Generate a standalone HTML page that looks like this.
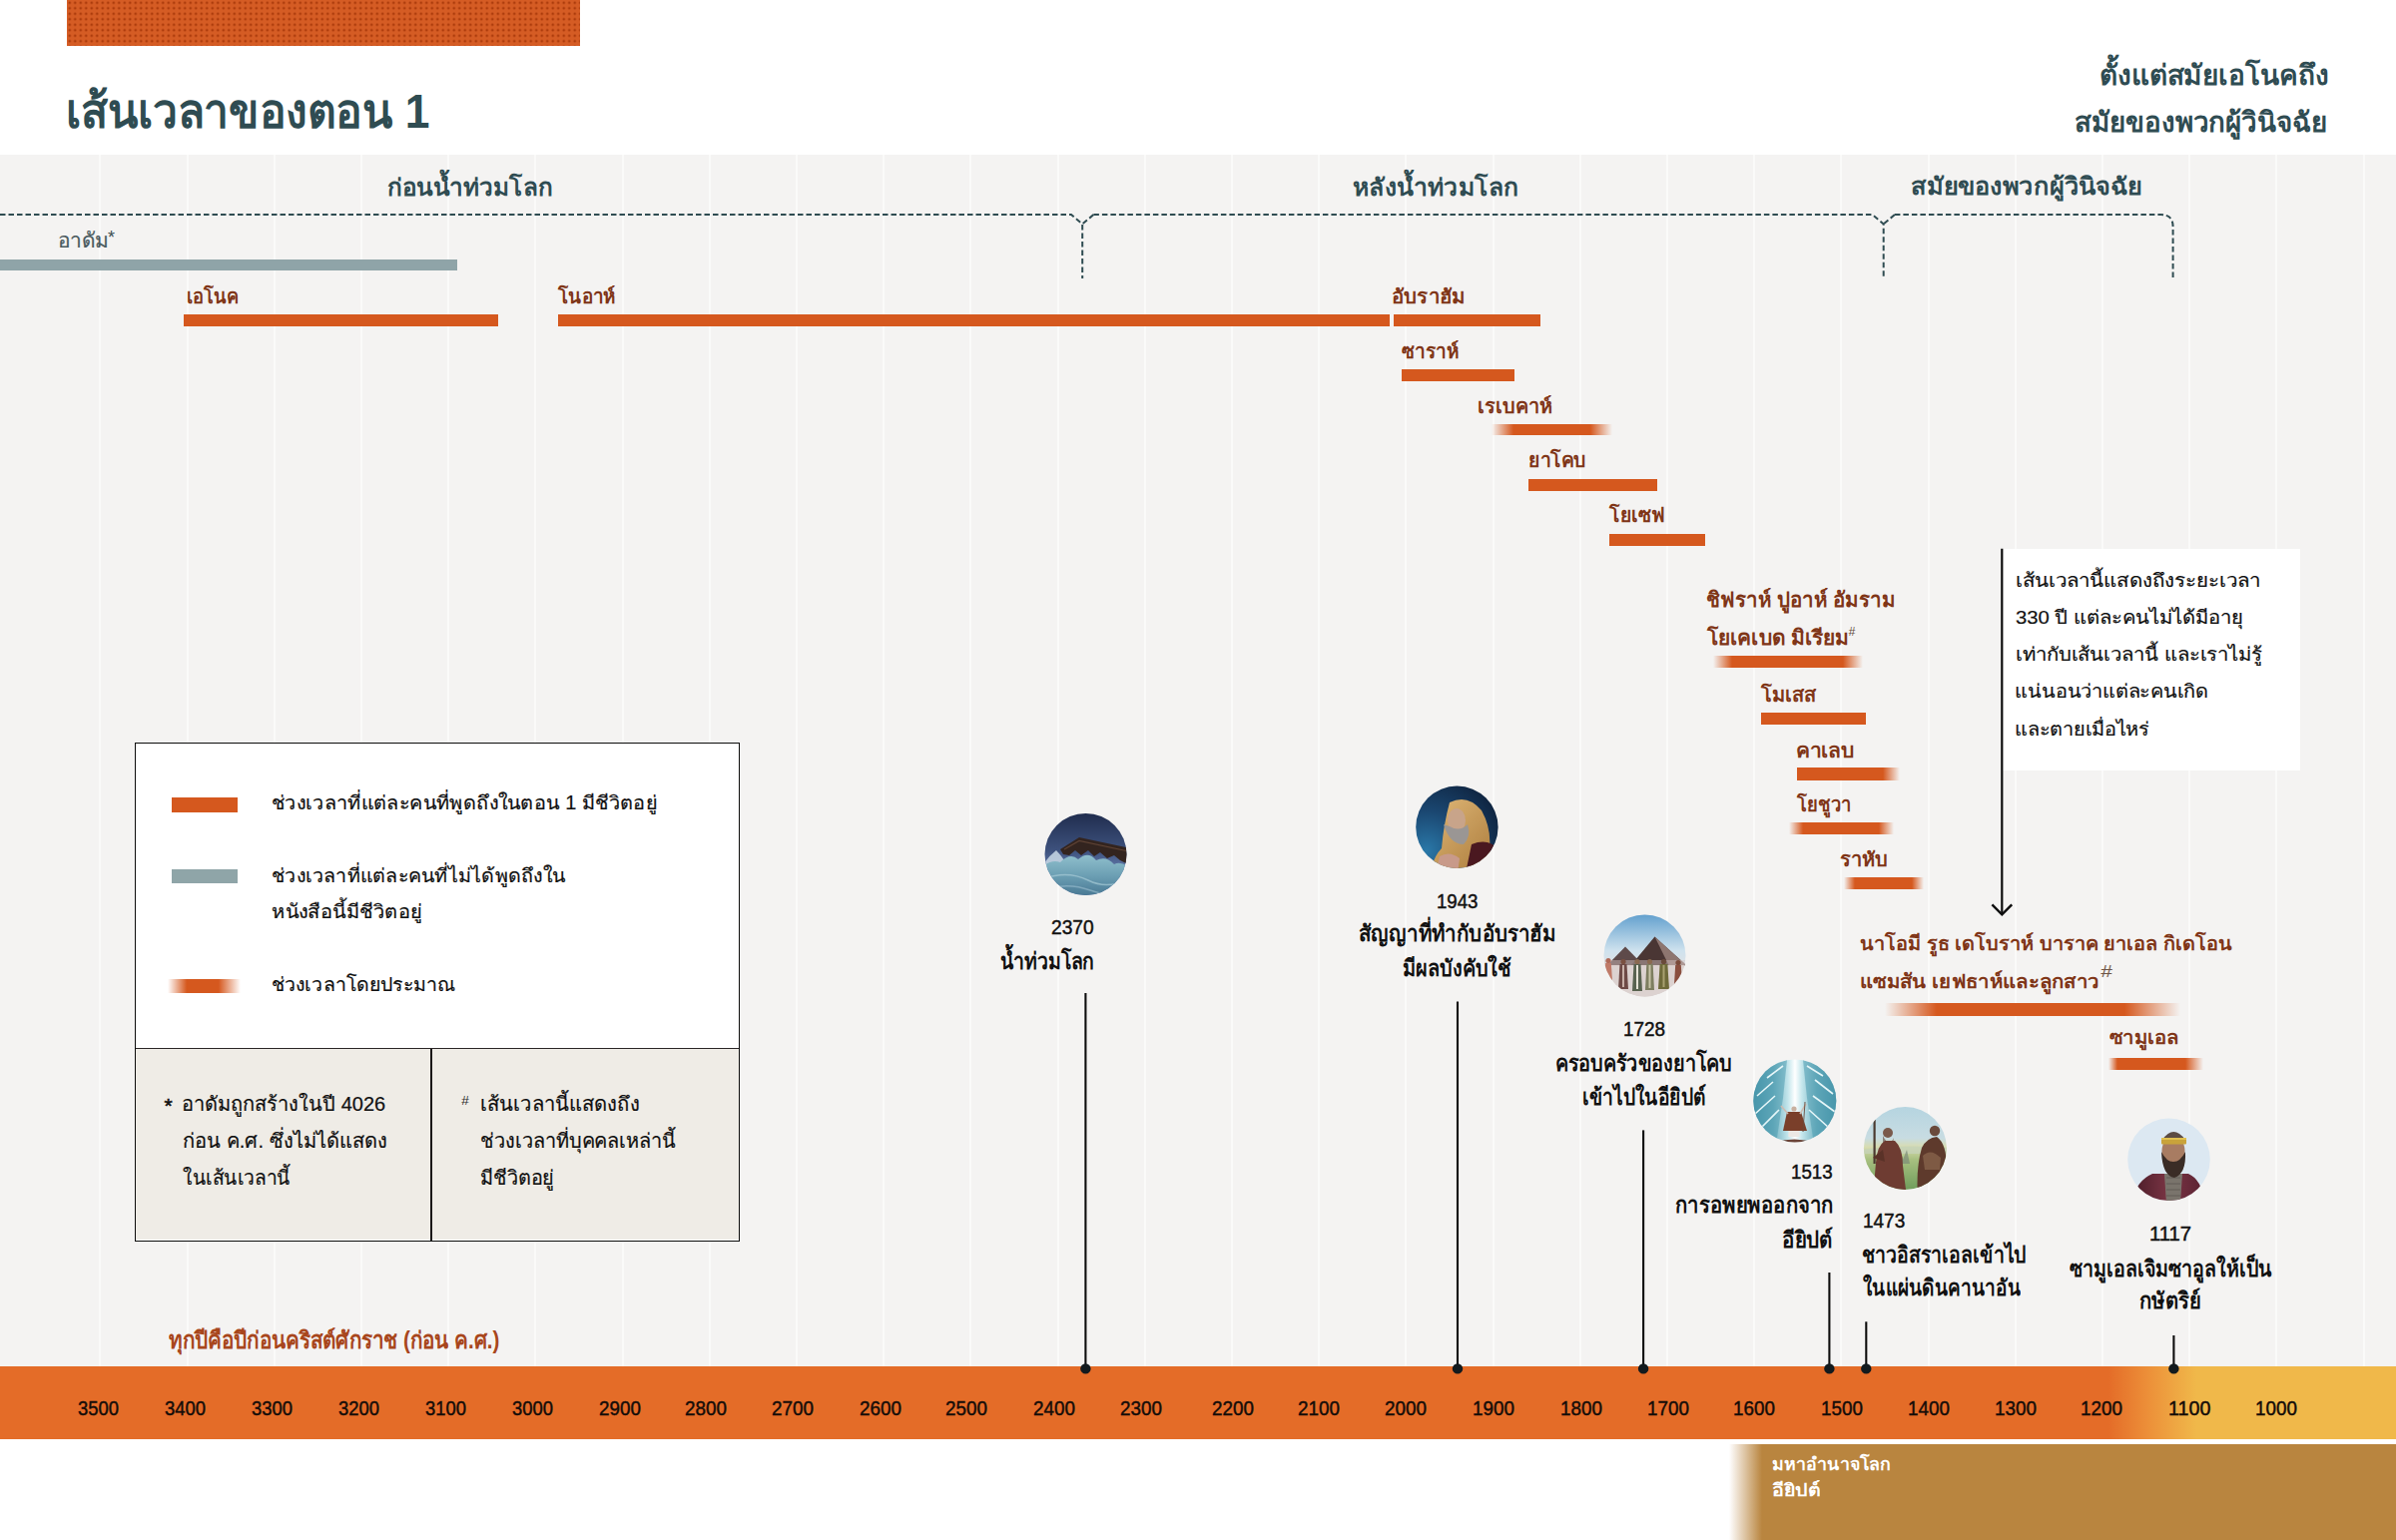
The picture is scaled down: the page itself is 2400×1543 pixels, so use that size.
<!DOCTYPE html><html><head><meta charset="utf-8"><title>Timeline</title><style>

*{margin:0;padding:0;box-sizing:border-box}
html,body{width:2400px;height:1543px;overflow:hidden;background:#fff}
body{position:relative;font-family:"Liberation Sans",sans-serif}
.abs{position:absolute}
.b{position:absolute}
.t{position:absolute;white-space:nowrap;line-height:1;transform-origin:0 0}

</style></head><body>
<div class="abs" style="left:67px;top:0;width:514px;height:46px;background-color:#d55c24;background-image:radial-gradient(circle at 50% 50%,rgba(160,50,5,.75) 0,rgba(160,50,5,.75) 1.1px,transparent 1.6px);background-size:5.5px 5.5px"></div>
<div class="abs" style="left:0;top:155px;width:2400px;height:1214px;background:#f4f3f2"></div>
<div class="abs" style="left:99.4px;top:155px;width:2px;height:1214px;background:#fafaf9"></div>
<div class="abs" style="left:186.6px;top:155px;width:2px;height:1214px;background:#fafaf9"></div>
<div class="abs" style="left:273.8px;top:155px;width:2px;height:1214px;background:#fafaf9"></div>
<div class="abs" style="left:361.0px;top:155px;width:2px;height:1214px;background:#fafaf9"></div>
<div class="abs" style="left:448.2px;top:155px;width:2px;height:1214px;background:#fafaf9"></div>
<div class="abs" style="left:535.4px;top:155px;width:2px;height:1214px;background:#fafaf9"></div>
<div class="abs" style="left:622.6px;top:155px;width:2px;height:1214px;background:#fafaf9"></div>
<div class="abs" style="left:709.8px;top:155px;width:2px;height:1214px;background:#fafaf9"></div>
<div class="abs" style="left:797.0px;top:155px;width:2px;height:1214px;background:#fafaf9"></div>
<div class="abs" style="left:884.2px;top:155px;width:2px;height:1214px;background:#fafaf9"></div>
<div class="abs" style="left:971.4px;top:155px;width:2px;height:1214px;background:#fafaf9"></div>
<div class="abs" style="left:1058.6px;top:155px;width:2px;height:1214px;background:#fafaf9"></div>
<div class="abs" style="left:1145.8px;top:155px;width:2px;height:1214px;background:#fafaf9"></div>
<div class="abs" style="left:1233.0px;top:155px;width:2px;height:1214px;background:#fafaf9"></div>
<div class="abs" style="left:1320.2px;top:155px;width:2px;height:1214px;background:#fafaf9"></div>
<div class="abs" style="left:1407.4px;top:155px;width:2px;height:1214px;background:#fafaf9"></div>
<div class="abs" style="left:1494.6px;top:155px;width:2px;height:1214px;background:#fafaf9"></div>
<div class="abs" style="left:1581.8px;top:155px;width:2px;height:1214px;background:#fafaf9"></div>
<div class="abs" style="left:1669.0px;top:155px;width:2px;height:1214px;background:#fafaf9"></div>
<div class="abs" style="left:1756.2px;top:155px;width:2px;height:1214px;background:#fafaf9"></div>
<div class="abs" style="left:1843.4px;top:155px;width:2px;height:1214px;background:#fafaf9"></div>
<div class="abs" style="left:1930.6px;top:155px;width:2px;height:1214px;background:#fafaf9"></div>
<div class="abs" style="left:2017.8px;top:155px;width:2px;height:1214px;background:#fafaf9"></div>
<div class="abs" style="left:2105.0px;top:155px;width:2px;height:1214px;background:#fafaf9"></div>
<div class="abs" style="left:2192.2px;top:155px;width:2px;height:1214px;background:#fafaf9"></div>
<div class="abs" style="left:2279.4px;top:155px;width:2px;height:1214px;background:#fafaf9"></div>
<div class="abs" style="left:2366.6px;top:155px;width:2px;height:1214px;background:#fafaf9"></div>
<div class="abs" style="left:2006px;top:549.7px;width:298px;height:222.5px;background:#fff"></div>
<div class="abs" style="left:134.7px;top:743.5px;width:606.6px;height:500.3px;border:1.6px solid #0d0d0d;background:#fff"></div>
<div class="abs" style="left:136.3px;top:1050px;width:603.4px;height:192.2px;background:#efece6;border-top:1.4px solid #2a2626"></div>
<div class="abs" style="left:431.4px;top:1050.5px;width:1.5px;height:192px;background:#1a1818"></div>
<div class="abs" style="left:172.3px;top:799.1px;width:65.7px;height:14.5px;background:#d5581e"></div>
<div class="abs" style="left:172.3px;top:871.1px;width:65.7px;height:14.2px;background:#8fa5a8"></div>
<div class="b" style="left:168.0px;top:980.8px;width:72.5px;height:14.2px;background:linear-gradient(to right, rgba(213,88,30,0) 0%, #d5581e 26.21%, #d5581e 69.66%, rgba(213,88,30,0) 100%)"></div>
<div class="abs" style="left:0;top:260.4px;width:458px;height:10.8px;background:#8fa4a8"></div>
<div class="b" style="left:184.0px;top:315.0px;width:315.0px;height:11.7px;background:#d5581e"></div>
<div class="b" style="left:558.6px;top:315.2px;width:833.4px;height:11.4px;background:#d5581e"></div>
<div class="b" style="left:1395.5px;top:315.2px;width:147.9px;height:11.4px;background:#d5581e"></div>
<div class="b" style="left:1404.0px;top:370.3px;width:113.3px;height:11.4px;background:#d5581e"></div>
<div class="b" style="left:1494.0px;top:424.5px;width:120.7px;height:11.5px;background:linear-gradient(to right, rgba(213,88,30,0) 0%, #d5581e 18.23%, #d5581e 81.77%, rgba(213,88,30,0) 100%)"></div>
<div class="b" style="left:1531.0px;top:480.0px;width:129.0px;height:11.5px;background:#d5581e"></div>
<div class="b" style="left:1612.0px;top:535.2px;width:95.5px;height:11.4px;background:#d5581e"></div>
<div class="b" style="left:1715.7px;top:657.4px;width:150.3px;height:11.9px;background:linear-gradient(to right, rgba(213,88,30,0) 0%, #d5581e 12.64%, #d5581e 86.69%, rgba(213,88,30,0) 100%)"></div>
<div class="b" style="left:1763.6px;top:714.3px;width:105.4px;height:11.9px;background:#d5581e"></div>
<div class="b" style="left:1799.6px;top:769.4px;width:103.4px;height:12.2px;background:linear-gradient(to right, rgba(213,88,30,0) 0%, #d5581e 0.00%, #d5581e 83.56%, rgba(213,88,30,0) 100%)"></div>
<div class="b" style="left:1792.4px;top:824.0px;width:104.6px;height:11.8px;background:linear-gradient(to right, rgba(213,88,30,0) 0%, #d5581e 13.38%, #d5581e 85.66%, rgba(213,88,30,0) 100%)"></div>
<div class="b" style="left:1846.6px;top:879.0px;width:80.4px;height:12.0px;background:linear-gradient(to right, rgba(213,88,30,0) 0%, #d5581e 13.68%, #d5581e 85.07%, rgba(213,88,30,0) 100%)"></div>
<div class="b" style="left:1887.6px;top:1005.1px;width:296.3px;height:12.6px;background:linear-gradient(to right, rgba(213,88,30,0) 0%, #d5581e 17.55%, #d5581e 81.10%, rgba(213,88,30,0) 100%)"></div>
<div class="b" style="left:2112.1px;top:1060.2px;width:95.2px;height:12.1px;background:linear-gradient(to right, rgba(213,88,30,0) 0%, #d5581e 9.45%, #d5581e 81.09%, rgba(213,88,30,0) 100%)"></div>
<div class="abs" style="left:0;top:1369px;width:2400px;height:72.7px;background:linear-gradient(to right,#e46c28 0,#e46c28 2112px,#ec8e38 2150px,#f0b84a 2200px,#f0b84a 2400px)"></div>
<div class="abs" style="left:1732px;top:1447.1px;width:668px;height:96px;background:linear-gradient(to right,rgba(185,133,63,0) 0,#b9853f 33px,#b9853f 100%)"></div>
<svg class="abs" width="2400" height="1543" style="left:0;top:0">
<path d="M0,215.1 H1073 L1084.2,224.5 V279" fill="none" stroke="#2f4c52" stroke-width="2" stroke-dasharray="5.5 3"/>
<path d="M1095.4,215.1 L1084.2,224.5" fill="none" stroke="#2f4c52" stroke-width="2" stroke-dasharray="5.5 3"/>
<path d="M1095.4,215.1 H1875.5 L1886.7,224.5 V279" fill="none" stroke="#2f4c52" stroke-width="2" stroke-dasharray="5.5 3"/>
<path d="M1897.9,215.1 L1886.7,224.5" fill="none" stroke="#2f4c52" stroke-width="2" stroke-dasharray="5.5 3"/>
<path d="M1897.9,215.1 H2164.6 Q2176.6,215.1 2176.6,227 V279" fill="none" stroke="#2f4c52" stroke-width="2" stroke-dasharray="5.5 3"/>
<path d="M2005.3,549.7 V916" stroke="#0d0d0d" stroke-width="2.2" fill="none"/>
<path d="M1995.4,906.4 L2005.3,916.3 L2015.2,906.4" stroke="#0d0d0d" stroke-width="2.4" fill="none"/>
<path d="M1087.4,995 V1371" stroke="#0d0d0d" stroke-width="2.1"/>
<circle cx="1087.4" cy="1371.4" r="5.2" fill="#121a1e"/>
<path d="M1460,1003.6 V1371" stroke="#0d0d0d" stroke-width="2.1"/>
<circle cx="1460" cy="1371.4" r="5.2" fill="#121a1e"/>
<path d="M1646.1,1132.4 V1371" stroke="#0d0d0d" stroke-width="2.1"/>
<circle cx="1646.1" cy="1371.4" r="5.2" fill="#121a1e"/>
<path d="M1832.4,1275 V1371" stroke="#0d0d0d" stroke-width="2.1"/>
<circle cx="1832.4" cy="1371.4" r="5.2" fill="#121a1e"/>
<path d="M1869.3,1324.3 V1371" stroke="#0d0d0d" stroke-width="2.1"/>
<circle cx="1869.3" cy="1371.4" r="5.2" fill="#121a1e"/>
<path d="M2177.4,1338 V1371" stroke="#0d0d0d" stroke-width="2.1"/>
<circle cx="2177.4" cy="1371.4" r="5.2" fill="#121a1e"/>
</svg>
<svg class="abs" width="2400" height="1543" style="left:0;top:0">
<defs>
<clipPath id="c0"><circle cx="1087.5" cy="856" r="41"/></clipPath>
<clipPath id="c1"><circle cx="1459.4" cy="828.7" r="41.2"/></clipPath>
<clipPath id="c2"><circle cx="1647.5" cy="957.4" r="41"/></clipPath>
<clipPath id="c3"><circle cx="1797.8" cy="1102.9" r="41.5"/></clipPath>
<clipPath id="c4"><circle cx="1908.4" cy="1150.5" r="41.5"/></clipPath>
<clipPath id="c5"><circle cx="2172.5" cy="1161.8" r="41.3"/></clipPath>
<linearGradient id="sky0" x1="0" y1="0" x2="0" y2="1"><stop offset="0" stop-color="#1c2848"/><stop offset="0.45" stop-color="#3e527e"/><stop offset="0.6" stop-color="#5a70a0"/></linearGradient>
<linearGradient id="sea0" x1="0" y1="0" x2="0" y2="1"><stop offset="0" stop-color="#8fbfcc"/><stop offset="0.45" stop-color="#6a9db2"/><stop offset="1" stop-color="#3c6a88"/></linearGradient>
<radialGradient id="sky1" cx="0.15" cy="0.75" r="0.9"><stop offset="0" stop-color="#2a78a8"/><stop offset="0.5" stop-color="#1a4670"/><stop offset="1" stop-color="#0f2440"/></radialGradient>
<linearGradient id="cloak1" x1="0" y1="0" x2="1" y2="1"><stop offset="0" stop-color="#e0b878"/><stop offset="1" stop-color="#a87838"/></linearGradient>
<linearGradient id="sky2" x1="0" y1="0" x2="0" y2="1"><stop offset="0" stop-color="#5c9ccc"/><stop offset="0.45" stop-color="#cfe2ee"/><stop offset="0.7" stop-color="#e6e2e2"/><stop offset="1" stop-color="#d6ccca"/></linearGradient>
<linearGradient id="sea3" x1="0" y1="0" x2="1" y2="0"><stop offset="0" stop-color="#3a8aa0"/><stop offset="0.25" stop-color="#6fb0c0"/><stop offset="0.42" stop-color="#c4e6ec"/><stop offset="0.5" stop-color="#ffffff"/><stop offset="0.58" stop-color="#c4e6ec"/><stop offset="0.75" stop-color="#6fb0c0"/><stop offset="1" stop-color="#3a8aa0"/></linearGradient>
<linearGradient id="sky4" x1="0" y1="0" x2="0" y2="1"><stop offset="0" stop-color="#b4d4e0"/><stop offset="0.38" stop-color="#c8dce2"/><stop offset="0.48" stop-color="#d8dcb0"/><stop offset="0.62" stop-color="#a8c080"/><stop offset="1" stop-color="#6a9a58"/></linearGradient>
<linearGradient id="robe5" x1="0" y1="0" x2="1" y2="0"><stop offset="0" stop-color="#4a1c28"/><stop offset="0.5" stop-color="#7a3444"/><stop offset="1" stop-color="#5a2232"/></linearGradient>
</defs>
<g clip-path="url(#c0)"><rect x="1040" y="810" width="95" height="95" fill="url(#sky0)"/><path d="M1062,851 L1081,839 L1130,849.5 L1130,866 L1122,862 L1116,857 L1109,860 L1102,854 L1096,858 L1090,852 L1083,857 L1077,852 L1071,857 L1065,856 Z" fill="#33241f"/><path d="M1066,851 L1081,842.5 L1128,852.5" stroke="#5e4234" stroke-width="1.2" fill="none"/><path d="M1044,868 Q1050,858 1058,852 Q1062,856 1066,862 L1060,872 Z" fill="#c9d9e6" opacity="0.85"/><path d="M1040,872 Q1052,860 1062,864 Q1072,854 1080,861 Q1090,852 1098,862 Q1108,857 1116,866 Q1124,862 1135,872 L1135,905 L1040,905 Z" fill="url(#sea0)"/><path d="M1046,880 Q1070,872 1090,882 T1132,880" stroke="#a6cad6" stroke-width="1.4" fill="none" opacity="0.7"/><path d="M1048,891 Q1070,884 1092,892 T1132,890" stroke="#9cc0d0" stroke-width="1.4" fill="none" opacity="0.6"/></g>
<g clip-path="url(#c1)"><rect x="1415" y="785" width="90" height="90" fill="url(#sky1)"/><path d="M1452,804 Q1470,795 1484,812 Q1494,830 1492,850 L1500,875 L1432,875 Q1436,858 1444,850 Q1446,826 1452,804 Z" fill="url(#cloak1)"/><ellipse cx="1459" cy="822" rx="9" ry="12" fill="#c8a48a"/><path d="M1446,826 Q1452,846 1466,846 Q1474,838 1470,826 Q1462,834 1452,828 Z" fill="#9a9694"/><path d="M1474,846 Q1494,838 1504,856 L1504,875 L1468,875 Z" fill="#4a1820"/><path d="M1442,858 Q1452,852 1462,860 L1460,875 L1438,875 Z" fill="#c89a8a"/></g>
<g clip-path="url(#c2)"><rect x="1605" y="914" width="85" height="86" fill="url(#sky2)"/><path d="M1610,967 L1628,948.5 L1646,967 Z" fill="#5e4a4a"/><path d="M1633,968 L1657.5,938.5 L1690,968 Z" fill="#4a3634"/><path d="M1657.5,938.5 L1690,968 L1672,968 Z" fill="#8e7670"/><rect x="1605" y="967" width="85" height="33" fill="#dcd2d0"/><rect x="1605" y="962" width="85" height="6" fill="#d6c6c4" opacity="0.45"/><circle cx="1611" cy="962.6" r="2.6" fill="#b06a58"/><path d="M1608.2,965 L1613.8,965 L1615.0,982 L1607.0,982 Z" fill="#c07a68"/><circle cx="1626" cy="963.6" r="2.6" fill="#7a5040"/><path d="M1622.5,966 L1629.5,966 L1631.0,991 L1621.0,991 Z" fill="#6e4a46"/><rect x="1625" y="967" width="2" height="22" fill="#c8b0a8"/><circle cx="1640" cy="963.6" r="2.6" fill="#8a6a50"/><path d="M1636.5,966 L1643.5,966 L1645.0,993 L1635.0,993 Z" fill="#58624f"/><rect x="1639" y="967" width="2" height="24" fill="#e6e2d6"/><circle cx="1652.5" cy="963.6" r="2.6" fill="#8a6a50"/><path d="M1649.35,966 L1655.65,966 L1657.0,992 L1648.0,992 Z" fill="#7e7e60"/><rect x="1651.5" y="967" width="2" height="23" fill="#c8c4a8"/><circle cx="1666.5" cy="963.6" r="2.6" fill="#6a4a3a"/><path d="M1662.65,966 L1670.35,966 L1672.0,991 L1661.0,991 Z" fill="#6e6a3a"/><rect x="1665.5" y="967" width="2" height="22" fill="#a8a070"/><circle cx="1681" cy="964.6" r="2.6" fill="#7a4a3a"/><path d="M1678.2,967 L1683.8,967 L1685.0,986 L1677.0,986 Z" fill="#8a4e3e"/></g>
<g clip-path="url(#c3)"><rect x="1754" y="1060" width="88" height="88" fill="url(#sea3)"/><path d="M1756,1075 L1790,1062 L1786,1100 L1780,1140 L1756,1140 Z" fill="#4f9cb0" opacity="0.55"/><path d="M1840,1075 L1806,1062 L1810,1100 L1816,1140 L1840,1140 Z" fill="#4f9cb0" opacity="0.55"/><path d="M1760,1098 L1776,1084 M1758,1116 L1778,1098 M1764,1130 L1782,1112 M1770,1080 L1786,1068" stroke="#e6f6f8" stroke-width="1.6" fill="none"/><path d="M1836,1096 L1818,1082 M1838,1114 L1816,1098 M1832,1130 L1812,1112 M1826,1078 L1810,1068" stroke="#e6f6f8" stroke-width="1.6" fill="none"/><path d="M1790,1114 L1804,1114 L1810,1133 L1786,1133 Z" fill="#7a3f2a"/><path d="M1791,1116 L1784,1108 M1803,1116 L1809,1106" stroke="#cdbcb2" stroke-width="1.6"/><path d="M1808,1104 L1806,1134" stroke="#6a4a3a" stroke-width="0.9"/><circle cx="1797" cy="1111" r="2.6" fill="#c8b0a0"/><rect x="1791.5" y="1133" width="11" height="6" fill="#ece8e4"/><path d="M1774,1146 Q1797,1137 1822,1146 Z" fill="#6b4438"/></g>
<g clip-path="url(#c4)"><rect x="1864" y="1107" width="90" height="88" fill="url(#sky4)"/><path d="M1866,1152 Q1900,1146 1952,1150 L1952,1156 L1866,1156 Z" fill="#c6d2b8" opacity="0.8"/><path d="M1900,1160 L1903,1150 L1906,1162 L1910,1152 L1913,1166 L1900,1166 Z" fill="#7a8a78" opacity="0.7"/><rect x="1876.5" y="1122" width="2.2" height="44" fill="#4a3a30"/><circle cx="1891" cy="1135" r="5" fill="#7a5a4c"/><path d="M1886,1138 Q1892,1150 1897,1140 L1896,1146 Q1891,1152 1886,1146 Z" fill="#8a8078"/><path d="M1876,1200 L1879,1165 Q1880,1148 1888,1143 L1898,1143 Q1906,1150 1906,1168 L1910,1200 Z" fill="#6e3c32"/><path d="M1876,1160 L1886,1152 L1888,1164 Z" fill="#5a3228"/><circle cx="1938" cy="1133" r="5.2" fill="#6a4a3c"/><path d="M1921,1200 Q1919,1170 1925,1150 Q1930,1140 1940,1139 Q1950,1146 1950,1170 L1950,1200 Z" fill="#5e3a2c"/><path d="M1926,1158 Q1934,1150 1944,1160 L1943,1172 L1928,1172 Z" fill="#7e5a44"/></g>
<g clip-path="url(#c5)"><rect x="2128" y="1118" width="90" height="90" fill="#dce8f2"/><path d="M2136,1206 Q2138,1184 2156,1176 L2192,1176 Q2206,1182 2208,1206 Z" fill="url(#robe5)"/><path d="M2168,1176 L2186,1176 L2184,1206 L2170,1206 Z" fill="#7a746c"/><path d="M2170,1180 L2184,1180 M2170,1186 L2184,1186 M2170,1192 L2184,1192 M2170,1198 L2184,1198" stroke="#5a5650" stroke-width="0.8"/><ellipse cx="2177" cy="1153" rx="11.5" ry="15" fill="#a87c62"/><path d="M2165,1154 Q2166,1178 2178,1180 Q2190,1176 2189,1154 Q2184,1164 2177,1164 Q2170,1164 2165,1154 Z" fill="#3a2c26"/><path d="M2166,1142 Q2177,1126 2189,1142 L2189,1146 L2166,1146 Z" fill="#5c4c44"/><rect x="2165" y="1140" width="25" height="6.5" rx="1" fill="#c9a33a"/><rect x="2165" y="1140" width="25" height="2" fill="#e0c050"/></g>
</svg>
<div class="t" id="m0" style="left:108px;top:228.9px;font-size:18px;color:#3d4f52">*</div>
<div class="t" id="m1" style="left:1851.5px;top:627px;font-size:12px;color:#5e4638;font-style:italic">#</div>
<div class="t" id="m2" style="left:2103.5px;top:966px;font-size:16px;color:#6e5444;font-style:italic;transform:scaleX(1.3)">#</div>
<div class="t" id="m3" style="left:164.5px;top:1097.4px;font-size:21px;font-weight:400;color:#111;-webkit-text-stroke:0.6px #111">*</div>
<div class="t" id="m4" style="left:462px;top:1096px;font-size:13.6px;color:#2a2a2a;font-style:italic">#</div>
<div class="t" id="t0" style="left:65.53px;top:87.00px;font-size:48.14px;font-weight:700;color:#2f4c52;transform:scaleX(0.9225);width:399px;clip-path:inset(-60px 0 -60px -30px);">เส้นเวลาของตอน 1</div>
<div class="t" id="t1" style="left:2102.81px;top:61.50px;font-size:28.14px;font-weight:700;color:#2f4c52;transform:scaleX(0.9939);width:234px;clip-path:inset(-60px 0 -60px -30px);">ตั้งแต่สมัยเอโนคถึง</div>
<div class="t" id="t2" style="left:2078.40px;top:108.69px;font-size:27.80px;font-weight:700;color:#2f4c52;transform:scaleX(0.9960);width:258px;clip-path:inset(-60px 0 -60px -30px);">สมัยของพวกผู้วินิจฉัย</div>
<div class="t" id="t3" style="left:387.79px;top:175.60px;font-size:24.07px;font-weight:600;color:#2f4c52;transform:scaleX(1.0112);width:167px;clip-path:inset(-60px 0 -60px -30px);">ก่อนน้ำท่วมโลก</div>
<div class="t" id="t4" style="left:1355.37px;top:175.90px;font-size:24.07px;font-weight:600;color:#2f4c52;transform:scaleX(1.0270);width:165px;clip-path:inset(-60px 0 -60px -30px);">หลังน้ำท่วมโลก</div>
<div class="t" id="t5" style="left:1914.45px;top:174.80px;font-size:24.07px;font-weight:600;color:#2f4c52;transform:scaleX(1.0528);width:224px;clip-path:inset(-60px 0 -60px -30px);">สมัยของพวกผู้วินิจฉัย</div>
<div class="t" id="t6" style="left:58.48px;top:231.21px;font-size:20.69px;font-weight:400;color:#4a5a5e;transform:scaleX(1.0106);width:54px;clip-path:inset(-60px 0 -60px -30px);-webkit-text-stroke:0.2px currentColor;">อาดัม</div>
<div class="t" id="t7" style="left:186.89px;top:286.70px;font-size:20.00px;font-weight:600;color:#7f3517;transform:scaleX(0.9127);width:61px;clip-path:inset(-60px 0 -60px -30px);">เอโนค</div>
<div class="t" id="t8" style="left:558.60px;top:286.80px;font-size:20.00px;font-weight:600;color:#7f3517;transform:scaleX(0.9410);width:66px;clip-path:inset(-60px 0 -60px -30px);">โนอาห์</div>
<div class="t" id="t9" style="left:1394.48px;top:286.60px;font-size:20.00px;font-weight:600;color:#7f3517;transform:scaleX(1.0186);width:76px;clip-path:inset(-60px 0 -60px -30px);">อับราฮัม</div>
<div class="t" id="t10" style="left:1404.00px;top:342.20px;font-size:20.00px;font-weight:600;color:#7f3517;transform:scaleX(0.9483);width:65px;clip-path:inset(-60px 0 -60px -30px);">ซาราห์</div>
<div class="t" id="t11" style="left:1480.01px;top:396.50px;font-size:20.00px;font-weight:600;color:#7f3517;transform:scaleX(0.9932);width:80px;clip-path:inset(-60px 0 -60px -30px);">เรเบคาห์</div>
<div class="t" id="t12" style="left:1531.03px;top:451.30px;font-size:20.00px;font-weight:600;color:#7f3517;transform:scaleX(0.9655);width:64px;clip-path:inset(-60px 0 -60px -30px);">ยาโคบ</div>
<div class="t" id="t13" style="left:1612.00px;top:506.30px;font-size:20.00px;font-weight:600;color:#7f3517;transform:scaleX(0.9614);width:62px;clip-path:inset(-60px 0 -60px -30px);">โยเซฟ</div>
<div class="t" id="t14" style="left:1708.51px;top:591.12px;font-size:20.68px;font-weight:600;color:#7f3517;transform:scaleX(0.9904);width:194px;clip-path:inset(-60px 0 -60px -30px);">ชิฟราห์ ปูอาห์ อัมราม</div>
<div class="t" id="t15" style="left:1709.50px;top:629.22px;font-size:20.68px;font-weight:600;color:#7f3517;transform:scaleX(1.0108);width:144px;clip-path:inset(-60px 0 -60px -30px);">โยเคเบด มิเรียม</div>
<div class="t" id="t16" style="left:1764.00px;top:686.20px;font-size:20.00px;font-weight:600;color:#7f3517;width:60px;clip-path:inset(-60px 0 -60px -30px);">โมเสส</div>
<div class="t" id="t17" style="left:1798.95px;top:741.80px;font-size:20.00px;font-weight:600;color:#7f3517;transform:scaleX(1.0481);width:60px;clip-path:inset(-60px 0 -60px -30px);">คาเลบ</div>
<div class="t" id="t18" style="left:1799.60px;top:796.30px;font-size:20.00px;font-weight:600;color:#7f3517;transform:scaleX(0.9172);width:63px;clip-path:inset(-60px 0 -60px -30px);">โยชูวา</div>
<div class="t" id="t19" style="left:1843.00px;top:850.80px;font-size:20.00px;font-weight:600;color:#7f3517;width:52px;clip-path:inset(-60px 0 -60px -30px);">ราหับ</div>
<div class="t" id="t20" style="left:1863.20px;top:935.55px;font-size:19.83px;font-weight:600;color:#7f3517;transform:scaleX(1.0008);width:378px;clip-path:inset(-60px 0 -60px -30px);">นาโอมี รูธ เดโบราห์ บาราค ยาเอล กิเดโอน</div>
<div class="t" id="t21" style="left:1863.18px;top:973.95px;font-size:19.83px;font-weight:600;color:#7f3517;transform:scaleX(1.0250);width:238px;clip-path:inset(-60px 0 -60px -30px);">แซมสัน เยฟธาห์และลูกสาว</div>
<div class="t" id="t22" style="left:2113.00px;top:1029.85px;font-size:19.83px;font-weight:600;color:#7f3517;transform:scaleX(1.0209);width:72px;clip-path:inset(-60px 0 -60px -30px);">ซามูเอล</div>
<div class="t" id="t23" style="left:2019.30px;top:572.59px;font-size:18.62px;font-weight:400;color:#111111;transform:scaleX(1.1027);width:226px;clip-path:inset(-60px 0 -60px -30px);-webkit-text-stroke:0.2px currentColor;">เส้นเวลานี้แสดงถึงระยะเวลา</div>
<div class="t" id="t24" style="left:2018.51px;top:609.69px;font-size:18.62px;font-weight:400;color:#111111;transform:scaleX(1.0879);width:213px;clip-path:inset(-60px 0 -60px -30px);-webkit-text-stroke:0.2px currentColor;">330 ปี แต่ละคนไม่ได้มีอายุ</div>
<div class="t" id="t25" style="left:2019.31px;top:647.09px;font-size:18.62px;font-weight:400;color:#111111;transform:scaleX(1.0911);width:231px;clip-path:inset(-60px 0 -60px -30px);-webkit-text-stroke:0.2px currentColor;">เท่ากับเส้นเวลานี้ และเราไม่รู้</div>
<div class="t" id="t26" style="left:2018.26px;top:684.49px;font-size:18.62px;font-weight:400;color:#111111;transform:scaleX(1.0725);width:185px;clip-path:inset(-60px 0 -60px -30px);-webkit-text-stroke:0.2px currentColor;">แน่นอนว่าแต่ละคนเกิด</div>
<div class="t" id="t27" style="left:2018.26px;top:721.89px;font-size:18.62px;font-weight:400;color:#111111;transform:scaleX(1.0685);width:131px;clip-path:inset(-60px 0 -60px -30px);-webkit-text-stroke:0.2px currentColor;">และตายเมื่อไหร่</div>
<div class="t" id="t28" style="left:1053.34px;top:919.00px;font-size:20.00px;font-weight:400;color:#111111;transform:scaleX(0.9581);width:49px;clip-path:inset(-60px 0 -60px -30px);-webkit-text-stroke:0.45px currentColor;">2370</div>
<div class="t" id="t29" style="left:1001.86px;top:951.58px;font-size:23.05px;font-weight:700;color:#111111;transform:scaleX(0.8409);width:116px;clip-path:inset(-60px 0 -60px -30px);">น้ำท่วมโลก</div>
<div class="t" id="t30" style="left:1438.97px;top:892.80px;font-size:20.00px;font-weight:400;color:#111111;transform:scaleX(0.9326);width:49px;clip-path:inset(-60px 0 -60px -30px);-webkit-text-stroke:0.45px currentColor;">1943</div>
<div class="t" id="t31" style="left:1361.11px;top:924.18px;font-size:23.05px;font-weight:700;color:#111111;transform:scaleX(0.8886);width:226px;clip-path:inset(-60px 0 -60px -30px);">สัญญาที่ทำกับอับราฮัม</div>
<div class="t" id="t32" style="left:1404.64px;top:959.18px;font-size:23.05px;font-weight:700;color:#111111;transform:scaleX(0.8632);width:131px;clip-path:inset(-60px 0 -60px -30px);">มีผลบังคับใช้</div>
<div class="t" id="t33" style="left:1626.05px;top:1020.60px;font-size:20.00px;font-weight:400;color:#111111;transform:scaleX(0.9465);width:49px;clip-path:inset(-60px 0 -60px -30px);-webkit-text-stroke:0.45px currentColor;">1728</div>
<div class="t" id="t34" style="left:1558.14px;top:1053.98px;font-size:23.05px;font-weight:700;color:#111111;transform:scaleX(0.8603);width:210px;clip-path:inset(-60px 0 -60px -30px);">ครอบครัวของยาโคบ</div>
<div class="t" id="t35" style="left:1584.67px;top:1087.68px;font-size:23.05px;font-weight:700;color:#111111;transform:scaleX(0.8318);width:154px;clip-path:inset(-60px 0 -60px -30px);">เข้าไปในอียิปต์</div>
<div class="t" id="t36" style="left:1794.06px;top:1164.00px;font-size:20.00px;font-weight:400;color:#111111;transform:scaleX(0.9372);width:49px;clip-path:inset(-60px 0 -60px -30px);-webkit-text-stroke:0.45px currentColor;">1513</div>
<div class="t" id="t37" style="left:1677.61px;top:1196.47px;font-size:22.71px;font-weight:700;color:#111111;transform:scaleX(0.8915);width:182px;clip-path:inset(-60px 0 -60px -30px);">การอพยพออกจาก</div>
<div class="t" id="t38" style="left:1784.90px;top:1230.87px;font-size:22.71px;font-weight:700;color:#111111;transform:scaleX(0.9018);width:61px;clip-path:inset(-60px 0 -60px -30px);">อียิปต์</div>
<div class="t" id="t39" style="left:1865.95px;top:1212.50px;font-size:20.00px;font-weight:400;color:#111111;transform:scaleX(0.9488);width:49px;clip-path:inset(-60px 0 -60px -30px);-webkit-text-stroke:0.45px currentColor;">1473</div>
<div class="t" id="t40" style="left:1864.85px;top:1245.87px;font-size:22.71px;font-weight:700;color:#111111;transform:scaleX(0.8550);width:197px;clip-path:inset(-60px 0 -60px -30px);">ชาวอิสราเอลเข้าไป</div>
<div class="t" id="t41" style="left:1865.70px;top:1279.47px;font-size:22.71px;font-weight:700;color:#111111;transform:scaleX(0.8354);width:194px;clip-path:inset(-60px 0 -60px -30px);">ในแผ่นดินคานาอัน</div>
<div class="t" id="t42" style="left:2153.49px;top:1225.60px;font-size:20.00px;font-weight:400;color:#111111;transform:scaleX(1.0125);width:46px;clip-path:inset(-60px 0 -60px -30px);-webkit-text-stroke:0.45px currentColor;">1117</div>
<div class="t" id="t43" style="left:2073.00px;top:1260.07px;font-size:22.71px;font-weight:700;color:#111111;transform:scaleX(0.8613);width:240px;clip-path:inset(-60px 0 -60px -30px);">ซามูเอลเจิมซาอูลให้เป็น</div>
<div class="t" id="t44" style="left:2143.11px;top:1292.47px;font-size:22.71px;font-weight:700;color:#111111;transform:scaleX(0.8897);width:74px;clip-path:inset(-60px 0 -60px -30px);">กษัตริย์</div>
<div class="t" id="t45" style="left:272.27px;top:795.49px;font-size:19.31px;font-weight:400;color:#111111;transform:scaleX(1.0309);width:378px;clip-path:inset(-60px 0 -60px -30px);-webkit-text-stroke:0.2px currentColor;">ช่วงเวลาที่แต่ละคนที่พูดถึงในตอน 1 มีชีวิตอยู่</div>
<div class="t" id="t46" style="left:272.28px;top:867.69px;font-size:19.31px;font-weight:400;color:#111111;transform:scaleX(1.0209);width:293px;clip-path:inset(-60px 0 -60px -30px);-webkit-text-stroke:0.2px currentColor;">ช่วงเวลาที่แต่ละคนที่ไม่ได้พูดถึงใน</div>
<div class="t" id="t47" style="left:272.26px;top:904.49px;font-size:19.31px;font-weight:400;color:#111111;transform:scaleX(1.0399);width:149px;clip-path:inset(-60px 0 -60px -30px);-webkit-text-stroke:0.2px currentColor;">หนังสือนี้มีชีวิตอยู่</div>
<div class="t" id="t48" style="left:272.29px;top:976.89px;font-size:19.31px;font-weight:400;color:#111111;transform:scaleX(1.0122);width:186px;clip-path:inset(-60px 0 -60px -30px);-webkit-text-stroke:0.2px currentColor;">ช่วงเวลาโดยประมาณ</div>
<div class="t" id="t49" style="left:182.40px;top:1095.70px;font-size:20.00px;font-weight:400;color:#111111;transform:scaleX(1.0010);width:209px;clip-path:inset(-60px 0 -60px -30px);-webkit-text-stroke:0.2px currentColor;">อาดัมถูกสร้างในปี 4026</div>
<div class="t" id="t50" style="left:183.40px;top:1132.60px;font-size:20.00px;font-weight:400;color:#111111;transform:scaleX(1.0045);width:208px;clip-path:inset(-60px 0 -60px -30px);-webkit-text-stroke:0.2px currentColor;">ก่อน ค.ศ. ซึ่งไม่ได้แสดง</div>
<div class="t" id="t51" style="left:183.20px;top:1169.60px;font-size:20.00px;font-weight:400;color:#111111;transform:scaleX(0.9598);width:117px;clip-path:inset(-60px 0 -60px -30px);-webkit-text-stroke:0.2px currentColor;">ในเส้นเวลานี้</div>
<div class="t" id="t52" style="left:481.39px;top:1095.70px;font-size:20.00px;font-weight:400;color:#111111;transform:scaleX(1.0109);width:162px;clip-path:inset(-60px 0 -60px -30px);-webkit-text-stroke:0.2px currentColor;">เส้นเวลานี้แสดงถึง</div>
<div class="t" id="t53" style="left:481.40px;top:1132.60px;font-size:20.00px;font-weight:400;color:#111111;transform:scaleX(0.9954);width:202px;clip-path:inset(-60px 0 -60px -30px);-webkit-text-stroke:0.2px currentColor;">ช่วงเวลาที่บุคคลเหล่านี้</div>
<div class="t" id="t54" style="left:481.41px;top:1169.60px;font-size:20.00px;font-weight:400;color:#111111;transform:scaleX(0.9918);width:79px;clip-path:inset(-60px 0 -60px -30px);-webkit-text-stroke:0.2px currentColor;">มีชีวิตอยู่</div>
<div class="t" id="t55" style="left:169.00px;top:1331.59px;font-size:23.73px;font-weight:600;color:#a8461c;transform:scaleX(0.8720);width:384px;clip-path:inset(-60px 0 -60px -30px);">ทุกปีคือปีก่อนคริสต์ศักราช (ก่อน ค.ศ.)</div>
<div class="t" id="t56" style="left:1774.89px;top:1459.04px;font-size:17.63px;font-weight:600;color:#ffffff;transform:scaleX(1.0078);width:122px;clip-path:inset(-60px 0 -60px -30px);">มหาอำนาจโลก</div>
<div class="t" id="t57" style="left:1774.79px;top:1484.54px;font-size:17.63px;font-weight:600;color:#ffffff;transform:scaleX(1.1143);width:48px;clip-path:inset(-60px 0 -60px -30px);">อียิปต์</div>
<div class="t" id="t58" style="left:78.30px;top:1400.95px;font-size:20.29px;font-weight:400;color:#140c08;transform:scaleX(0.9067);width:50px;clip-path:inset(-60px 0 -60px -30px);-webkit-text-stroke:0.45px currentColor;">3500</div>
<div class="t" id="t59" style="left:165.10px;top:1400.95px;font-size:20.29px;font-weight:400;color:#140c08;transform:scaleX(0.9067);width:50px;clip-path:inset(-60px 0 -60px -30px);-webkit-text-stroke:0.45px currentColor;">3400</div>
<div class="t" id="t60" style="left:251.90px;top:1400.95px;font-size:20.29px;font-weight:400;color:#140c08;transform:scaleX(0.9067);width:50px;clip-path:inset(-60px 0 -60px -30px);-webkit-text-stroke:0.45px currentColor;">3300</div>
<div class="t" id="t61" style="left:339.40px;top:1400.95px;font-size:20.29px;font-weight:400;color:#140c08;transform:scaleX(0.9067);width:50px;clip-path:inset(-60px 0 -60px -30px);-webkit-text-stroke:0.45px currentColor;">3200</div>
<div class="t" id="t62" style="left:426.20px;top:1400.95px;font-size:20.29px;font-weight:400;color:#140c08;transform:scaleX(0.9067);width:50px;clip-path:inset(-60px 0 -60px -30px);-webkit-text-stroke:0.45px currentColor;">3100</div>
<div class="t" id="t63" style="left:513.00px;top:1400.95px;font-size:20.29px;font-weight:400;color:#140c08;transform:scaleX(0.9067);width:50px;clip-path:inset(-60px 0 -60px -30px);-webkit-text-stroke:0.45px currentColor;">3000</div>
<div class="t" id="t64" style="left:599.57px;top:1400.95px;font-size:20.29px;font-weight:400;color:#140c08;transform:scaleX(0.9273);width:50px;clip-path:inset(-60px 0 -60px -30px);-webkit-text-stroke:0.45px currentColor;">2900</div>
<div class="t" id="t65" style="left:686.37px;top:1400.95px;font-size:20.29px;font-weight:400;color:#140c08;transform:scaleX(0.9273);width:50px;clip-path:inset(-60px 0 -60px -30px);-webkit-text-stroke:0.45px currentColor;">2800</div>
<div class="t" id="t66" style="left:773.27px;top:1400.95px;font-size:20.29px;font-weight:400;color:#140c08;transform:scaleX(0.9273);width:50px;clip-path:inset(-60px 0 -60px -30px);-webkit-text-stroke:0.45px currentColor;">2700</div>
<div class="t" id="t67" style="left:860.67px;top:1400.95px;font-size:20.29px;font-weight:400;color:#140c08;transform:scaleX(0.9273);width:50px;clip-path:inset(-60px 0 -60px -30px);-webkit-text-stroke:0.45px currentColor;">2600</div>
<div class="t" id="t68" style="left:947.47px;top:1400.95px;font-size:20.29px;font-weight:400;color:#140c08;transform:scaleX(0.9273);width:50px;clip-path:inset(-60px 0 -60px -30px);-webkit-text-stroke:0.45px currentColor;">2500</div>
<div class="t" id="t69" style="left:1034.67px;top:1400.95px;font-size:20.29px;font-weight:400;color:#140c08;transform:scaleX(0.9273);width:50px;clip-path:inset(-60px 0 -60px -30px);-webkit-text-stroke:0.45px currentColor;">2400</div>
<div class="t" id="t70" style="left:1121.67px;top:1400.95px;font-size:20.29px;font-weight:400;color:#140c08;transform:scaleX(0.9273);width:50px;clip-path:inset(-60px 0 -60px -30px);-webkit-text-stroke:0.45px currentColor;">2300</div>
<div class="t" id="t71" style="left:1213.57px;top:1400.95px;font-size:20.29px;font-weight:400;color:#140c08;transform:scaleX(0.9273);width:50px;clip-path:inset(-60px 0 -60px -30px);-webkit-text-stroke:0.45px currentColor;">2200</div>
<div class="t" id="t72" style="left:1300.37px;top:1400.95px;font-size:20.29px;font-weight:400;color:#140c08;transform:scaleX(0.9273);width:50px;clip-path:inset(-60px 0 -60px -30px);-webkit-text-stroke:0.45px currentColor;">2100</div>
<div class="t" id="t73" style="left:1387.17px;top:1400.95px;font-size:20.29px;font-weight:400;color:#140c08;transform:scaleX(0.9273);width:50px;clip-path:inset(-60px 0 -60px -30px);-webkit-text-stroke:0.45px currentColor;">2000</div>
<div class="t" id="t74" style="left:1475.27px;top:1400.95px;font-size:20.29px;font-weight:400;color:#140c08;transform:scaleX(0.9273);width:50px;clip-path:inset(-60px 0 -60px -30px);-webkit-text-stroke:0.45px currentColor;">1900</div>
<div class="t" id="t75" style="left:1562.67px;top:1400.95px;font-size:20.29px;font-weight:400;color:#140c08;transform:scaleX(0.9273);width:50px;clip-path:inset(-60px 0 -60px -30px);-webkit-text-stroke:0.45px currentColor;">1800</div>
<div class="t" id="t76" style="left:1649.67px;top:1400.95px;font-size:20.29px;font-weight:400;color:#140c08;transform:scaleX(0.9273);width:50px;clip-path:inset(-60px 0 -60px -30px);-webkit-text-stroke:0.45px currentColor;">1700</div>
<div class="t" id="t77" style="left:1736.37px;top:1400.95px;font-size:20.29px;font-weight:400;color:#140c08;transform:scaleX(0.9273);width:50px;clip-path:inset(-60px 0 -60px -30px);-webkit-text-stroke:0.45px currentColor;">1600</div>
<div class="t" id="t78" style="left:1823.67px;top:1400.95px;font-size:20.29px;font-weight:400;color:#140c08;transform:scaleX(0.9273);width:50px;clip-path:inset(-60px 0 -60px -30px);-webkit-text-stroke:0.45px currentColor;">1500</div>
<div class="t" id="t79" style="left:1910.67px;top:1400.95px;font-size:20.29px;font-weight:400;color:#140c08;transform:scaleX(0.9273);width:50px;clip-path:inset(-60px 0 -60px -30px);-webkit-text-stroke:0.45px currentColor;">1400</div>
<div class="t" id="t80" style="left:1997.67px;top:1400.95px;font-size:20.29px;font-weight:400;color:#140c08;transform:scaleX(0.9273);width:50px;clip-path:inset(-60px 0 -60px -30px);-webkit-text-stroke:0.45px currentColor;">1300</div>
<div class="t" id="t81" style="left:2084.37px;top:1400.95px;font-size:20.29px;font-weight:400;color:#140c08;transform:scaleX(0.9273);width:50px;clip-path:inset(-60px 0 -60px -30px);-webkit-text-stroke:0.45px currentColor;">1200</div>
<div class="t" id="t82" style="left:2171.63px;top:1400.95px;font-size:20.29px;font-weight:400;color:#140c08;transform:scaleX(0.9714);width:48px;clip-path:inset(-60px 0 -60px -30px);-webkit-text-stroke:0.45px currentColor;">1100</div>
<div class="t" id="t83" style="left:2258.67px;top:1400.95px;font-size:20.29px;font-weight:400;color:#140c08;transform:scaleX(0.9273);width:50px;clip-path:inset(-60px 0 -60px -30px);-webkit-text-stroke:0.45px currentColor;">1000</div>
</body></html>
